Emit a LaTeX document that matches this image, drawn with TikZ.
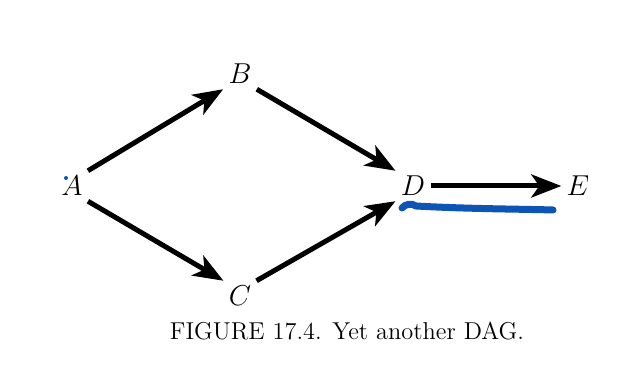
\documentclass[tikz,border=0pt]{standalone}
\usepackage{amssymb}
\usepackage{amsmath}
\usetikzlibrary{arrows.meta}

\definecolor{penblue}{RGB}{12,84,182}

\begin{document}
\begin{tikzpicture}[x=0.5pt,y=0.5pt,
    vertex/.style={font=\Large,inner sep=2.5pt},
    edge/.style={line width=2.5pt,-{Stealth[length=15pt,width=11.5pt,inset=4pt]}}]
  \useasboundingbox (0,0) rectangle (641,378);

  \node[vertex] (A) at (72,192) {$A$};
  \node[vertex] (B) at (240,304) {$B$};
  \node[vertex] (C) at (240,82) {$C$};
  \node[vertex] (D) at (413,192) {$D$};
  \node[vertex] (E) at (578,192) {$E$};

  \draw[edge] (A.north east) -- (B.south west);
  \draw[edge] (A.south east) -- (C.north west);
  \draw[edge] (B.south east) -- (D.north west);
  \draw[edge] (C.north east) -- (D.south west);
  \draw[edge] (D.east) -- (E.west);

  \node (caption) at (347,47) {\fontsize{12.2}{14}\selectfont FIGURE 17.4. Yet another DAG.};

  \fill[penblue] (66,200) circle (2);
  \draw[penblue,line width=3.5pt,line cap=round]
    (402,170) .. controls (405,174) and (412,175) .. (416,172)
    .. controls (470,169) and (520,169) .. (553,168);
\end{tikzpicture}
\end{document}
